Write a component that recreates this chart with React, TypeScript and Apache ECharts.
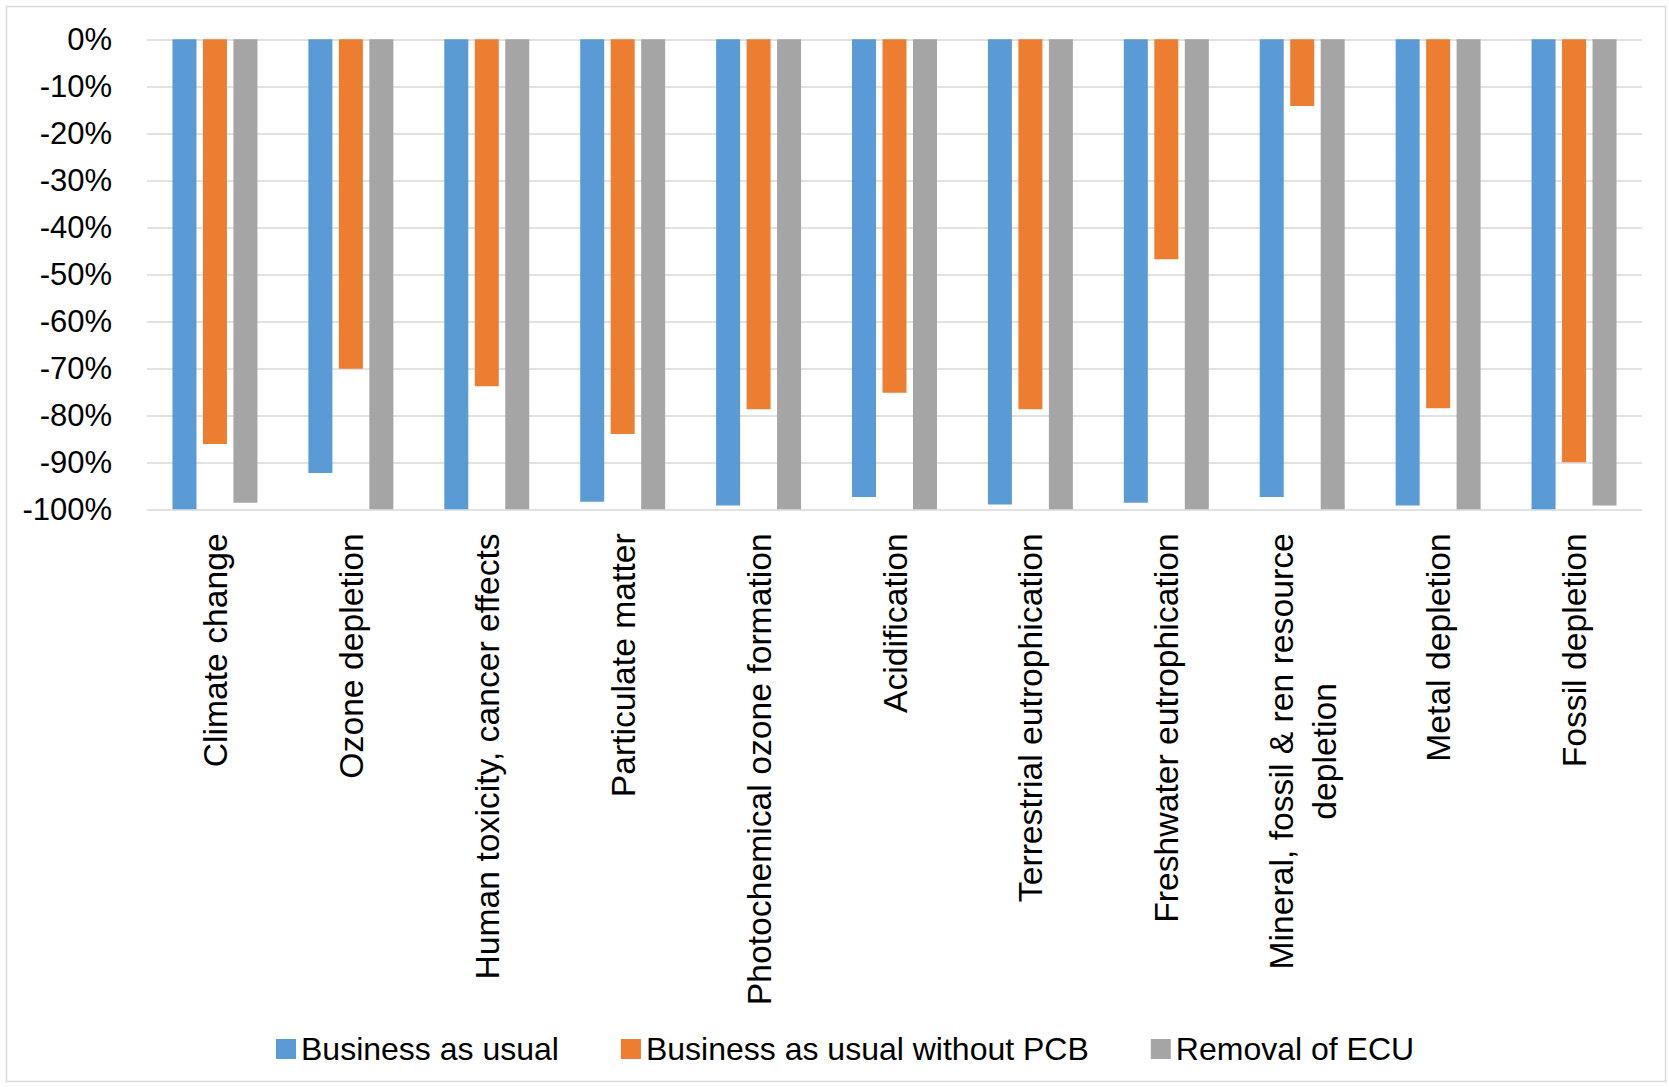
import React, { useEffect, useRef } from "react";
import * as echarts from "echarts";

const categories = [
  "Climate change",
  "Ozone depletion",
  "Human toxicity, cancer effects",
  "Particulate matter",
  "Photochemical ozone formation",
  "Acidification",
  "Terrestrial eutrophication",
  "Freshwater eutrophication",
  "Mineral, fossil & ren resource\ndepletion",
  "Metal depletion",
  "Fossil depletion",
];

const seriesNames = ["Business as usual", "Business as usual without PCB", "Removal of ECU"];

const businessAsUsual = [-1.0, -0.923, -1.0, -0.984, -0.992, -0.974, -0.99, -0.986, -0.974, -0.992, -1.0];
const withoutPCB = [-0.861, -0.701, -0.738, -0.84, -0.787, -0.752, -0.787, -0.468, -0.142, -0.785, -0.9];
const removalOfECU = [-0.986, -1.0, -1.0, -1.0, -1.0, -1.0, -1.0, -1.0, -1.0, -1.0, -0.992];

const colors = ["#5b9bd5", "#ed7d31", "#a5a5a5"];
const FONT = "Liberation Sans";

export default function App() {
  const ref = useRef<HTMLDivElement>(null);
  useEffect(() => {
    if (!ref.current) return;
    const chart = echarts.init(ref.current, undefined, { renderer: "svg" });
    const values = [businessAsUsual, withoutPCB, removalOfECU];
    chart.setOption({
      animation: false,
      backgroundColor: "#ffffff",
      textStyle: { fontFamily: FONT },
      graphic: [
        {
          type: "rect",
          shape: { x: 6.5, y: 6.5, width: 1659, height: 1075 },
          style: { fill: "none", stroke: "#d9d9d9", lineWidth: 1.5 },
          silent: true,
        },
      ],
      grid: { left: 147, right: 27, top: 39.3, bottom: 577.7, containLabel: false },
      legend: {
        left: 271,
        top: 1028,
        itemWidth: 20,
        itemHeight: 20,
        itemGap: 62,
        icon: "rect",
        textStyle: { fontSize: 32, color: "#000", fontFamily: FONT, lineHeight: 32 },
        data: seriesNames,
      },
      xAxis: {
        type: "category",
        data: categories,
        position: "bottom",
        axisLine: { show: false, onZero: false },
        axisTick: { show: false },
        axisLabel: {
          interval: 0,
          rotate: 90,
          margin: 24,
          color: "#000",
          fontSize: 33.7,
          fontFamily: FONT,
          lineHeight: 43,
          formatter: (v: string) =>
            v
              .split("\n")
              .map((line) => "{c|" + line + "}")
              .join("\n"),
          rich: {
            c: { align: "center", fontSize: 33.7, fontFamily: FONT, lineHeight: 43, color: "#000" },
          },
        },
      },
      yAxis: {
        type: "value",
        min: -1,
        max: 0,
        interval: 0.1,
        axisLine: { show: false },
        axisTick: { show: false },
        splitLine: { lineStyle: { color: "#d9d9d9", width: 1.5 } },
        axisLabel: {
          margin: 35,
          fontSize: 31,
          color: "#000",
          fontFamily: FONT,
          formatter: (v: number) => Math.round(v * 100) + "%",
        },
      },
      series: seriesNames.map((name, i) => ({
        name,
        type: "bar",
        data: values[i],
        barWidth: 24,
        barGap: "27%",
        itemStyle: { color: colors[i] },
      })),
    });
    return () => chart.dispose();
  }, []);
  return (
    <div
      ref={ref}
      style={{ position: "absolute", left: 0, top: 0, width: 1669, height: 1087 }}
    />
  );
}
